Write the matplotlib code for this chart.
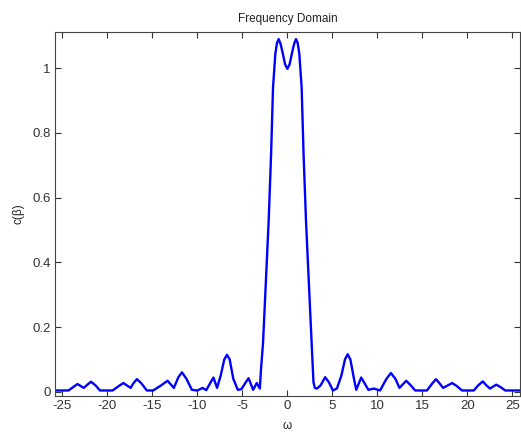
import numpy as np
import matplotlib.pyplot as plt

plt.rcParams['font.family'] = ['Liberation Sans', 'DejaVu Sans']

# values (omega, c)
omega = [-25.8, -24.3, -23.7, -23.3, -22.6, -22.2, -21.8, -21.3, -20.8, -19.4,
         -18.7, -18.2, -17.4, -17.1, -16.7, -16.2, -15.6, -14.9, -14.0, -13.3,
         -12.6, -12.1, -11.7, -11.2, -10.6, -10.0, -9.4, -9.0, -8.5, -8.2,
         -7.8, -7.4, -7.0, -6.7, -6.4, -6.0, -5.5, -5.1, -4.6, -4.3,
         -3.8, -3.4, -3.05, -2.93, -2.7, -2.45, -2.07, -1.8, -1.59, -1.33,
         -1.15, -0.96, -0.75, -0.5, -0.25, 0.0, 0.25, 0.5, 0.75, 0.96,
         1.15, 1.33, 1.59, 1.8, 2.07, 2.45, 2.7, 2.9, 3.05, 3.3,
         3.7, 4.2, 4.6, 5.07, 5.5, 6.0, 6.4, 6.7, 7.0, 7.4,
         7.65, 8.2, 8.5, 9.0, 9.6, 10.3, 11.0, 11.5, 12.0, 12.45,
         13.2, 13.7, 14.2, 15.5, 16.1, 16.5, 16.9, 17.3, 18.3, 18.8,
         19.4, 20.7, 21.2, 21.7, 22.1, 22.5, 23.2, 23.7, 24.2, 25.8]
c = [0.004, 0.004, 0.016, 0.024, 0.012, 0.022, 0.031, 0.020, 0.004, 0.004,
     0.018, 0.027, 0.012, 0.026, 0.039, 0.026, 0.004, 0.004, 0.020, 0.034,
     0.012, 0.045, 0.060, 0.040, 0.006, 0.004, 0.012, 0.005, 0.030, 0.044,
     0.012, 0.050, 0.100, 0.114, 0.100, 0.040, 0.006, 0.008, 0.030, 0.042,
     0.006, 0.027, 0.010, 0.067, 0.150, 0.300, 0.530, 0.737, 0.940, 1.045,
     1.078, 1.090, 1.075, 1.045, 1.012, 0.998, 1.012, 1.045, 1.075, 1.090,
     1.078, 1.045, 0.940, 0.737, 0.530, 0.300, 0.150, 0.030, 0.012, 0.010,
     0.020, 0.045, 0.030, 0.004, 0.010, 0.050, 0.100, 0.116, 0.100, 0.040,
     0.006, 0.044, 0.030, 0.006, 0.010, 0.004, 0.040, 0.058, 0.040, 0.012,
     0.034, 0.020, 0.004, 0.004, 0.026, 0.039, 0.026, 0.012, 0.027, 0.018,
     0.004, 0.004, 0.020, 0.032, 0.020, 0.010, 0.022, 0.014, 0.004, 0.004]

xticks = [-25, -20, -15, -10, -5, 0, 5, 10, 15, 20, 25]
yticks = [0, 0.2, 0.4, 0.6, 0.8, 1]

fig = plt.figure(figsize=(5.21, 4.34), dpi=100)
ax = fig.add_axes([0.1055, 0.0876, 0.892, 0.8387])
ax.plot(omega, c, color='#0000ff', lw=1.7, solid_joinstyle='round')

ax.set_xlim(-25.8, 25.8)
ax.set_ylim(-0.013, 1.112)
ax.set_xticks(xticks)
ax.set_xticklabels([str(t) for t in xticks])
ax.set_yticks(yticks)
ax.set_yticklabels(['0', '0.2', '0.4', '0.6', '0.8', '1'])
ax.tick_params(direction='in', length=4, width=0.8, top=True, right=True,
               labelsize=9.5, colors='#333333', pad=3)
for s in ax.spines.values():
    s.set_color('#444444')
    s.set_linewidth(0.8)

ax.set_title('Frequency Domain', fontsize=8.5, color='#222222', pad=7)
ax.set_xlabel('ω', fontsize=8.5, color='#222222', labelpad=6)
ax.set_ylabel('c(β)', fontsize=8.5, color='#222222', labelpad=6)

fig.savefig('out.png', dpi=100)
